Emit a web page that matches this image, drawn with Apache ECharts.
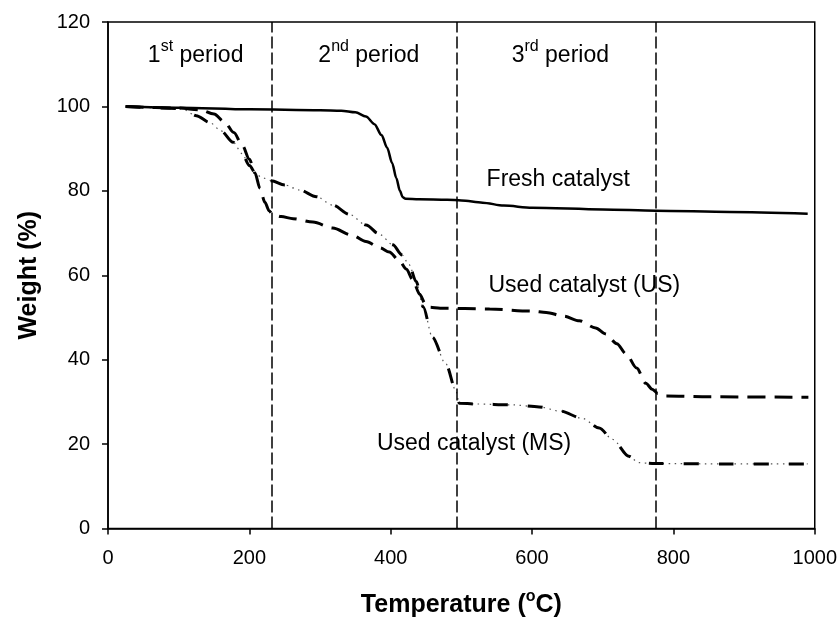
<!DOCTYPE html>
<html>
<head>
<meta charset="utf-8">
<script src="https://cdn.jsdelivr.net/npm/echarts@6/dist/echarts.min.js"></script>
<style>
html,body{margin:0;padding:0;background:#fff;}
#chart{width:840px;height:623px;}
</style>
</head>
<body>
<div id="chart"></div>
<script>
// ---- Data ----
const xTicks = [0, 200, 400, 600, 800, 1000];
const yTicks = [0, 20, 40, 60, 80, 100, 120];

const freshT = [25, 100, 200, 300, 330, 350, 365, 377, 387, 395, 402, 408, 413, 417, 421, 440, 480, 500, 530, 560, 600, 700, 775, 880, 990];
const freshW = [100, 99.7, 99.3, 99.1, 99.0, 98.6, 97.6, 95.8, 93.2, 90.2, 86.6, 83.0, 80.0, 78.5, 78.1, 78.0, 77.9, 77.7, 77.2, 76.5, 76, 75.6, 75.3, 75, 74.6];

const usT = [25, 100, 130, 150, 165, 178, 190, 200, 208, 215, 222, 228, 233, 245, 262, 290, 318, 345, 365, 385, 398, 412, 422, 431, 441, 449, 455, 470, 540, 600, 620, 645, 667, 690, 704, 720, 733, 748, 761, 770, 778, 790, 850, 991];
const usW = [100, 99.6, 99.2, 98.2, 96.3, 93.8, 90.8, 87.5, 84.2, 80.6, 77.3, 75.3, 74.4, 73.9, 73.4, 72.6, 71.2, 69.5, 68, 66.5, 65.5, 63.5, 61.5, 59, 55.5, 53.2, 52.4, 52.2, 52, 51.5, 51.2, 50.3, 49.2, 47.5, 46.1, 43.8, 41.4, 38, 34.4, 33, 32, 31.4, 31.2, 31.1];

const msT = [25, 100, 106, 125, 144, 160, 177, 190, 200, 210, 220, 231, 250, 271, 295, 318, 342, 365, 385, 403, 416, 426, 436, 446, 459, 478, 492, 497, 520, 572, 610, 640, 671, 695, 714, 737, 751, 770, 880, 990];
const msW = [100, 99.5, 99.3, 97.8, 96.2, 94.2, 91.5, 88.8, 86.0, 83.8, 83.0, 82.4, 81.4, 80.2, 78.6, 76.6, 74.4, 71.9, 69.6, 67.2, 64.8, 62.5, 58.5, 52.5, 45.3, 39, 32.8, 29.7, 29.5, 29.3, 28.8, 27.8, 26.1, 23.8, 21.1, 17.1, 15.6, 15.4, 15.3, 15.3];

const periodBounds = [232, 493, 775];

const seriesNames = ['Fresh catalyst', 'Used catalyst (US)', 'Used catalyst (MS)'];
const seriesLabelPos = [[637, 82.7], [674, 57.5], [518, 20.2]];
const periodLabels = [['1', 'st', ' period'], ['2', 'nd', ' period'], ['3', 'rd', ' period']];
const periodLabelPos = [[124, 112], [369, 112], [640, 112]];

// ---- Build ----
const zip = (a, b) => a.map((v, i) => [v, b[i]]);
const FONT = '"Liberation Sans", Arial, sans-serif';

const supRich = {
  a: { fontSize: 23, fontFamily: FONT, color: '#000', lineHeight: 34 },
  b: { fontSize: 16, fontFamily: FONT, color: '#000', lineHeight: 16, verticalAlign: 'top' }
};

const textMarks = {
  symbol: 'circle',
  symbolSize: 0,
  silent: true,
  label: { show: true, position: 'inside', color: '#000', fontSize: 23, fontFamily: FONT },
  data: []
};

const chart = echarts.init(document.getElementById('chart'), null, { renderer: 'canvas' });

const option = {
  animation: false,
  backgroundColor: '#fff',
  grid: {
    left: 108, right: 24, top: 22, bottom: 90,
    show: true, borderColor: '#000', borderWidth: 1.5, backgroundColor: 'transparent'
  },
  xAxis: {
    type: 'value', min: xTicks[0], max: xTicks[xTicks.length - 1], interval: xTicks[1] - xTicks[0],
    name: '{t|Temperature (}{s|o}{t|C)}',
    nameLocation: 'middle', nameGap: 60,
    nameTextStyle: {
      rich: {
        t: { fontSize: 25, fontWeight: 'bold', fontFamily: FONT, color: '#000', lineHeight: 34 },
        s: { fontSize: 16, fontWeight: 'bold', fontFamily: FONT, color: '#000', lineHeight: 16, verticalAlign: 'top' }
      }
    },
    axisLine: { show: true, lineStyle: { color: '#000', width: 1.5 } },
    axisTick: { show: true, inside: false, length: 6, lineStyle: { color: '#000', width: 1.5 } },
    axisLabel: { color: '#000', fontSize: 20, fontFamily: FONT, margin: 20, formatter: v => String(v) },
    splitLine: { show: false }
  },
  yAxis: {
    type: 'value', min: yTicks[0], max: yTicks[yTicks.length - 1], interval: yTicks[1] - yTicks[0],
    name: 'Weight (%)',
    nameLocation: 'middle', nameGap: 66,
    nameTextStyle: { fontSize: 25, fontWeight: 'bold', fontFamily: FONT, color: '#000' },
    axisLine: { show: true, lineStyle: { color: '#000', width: 1.5 } },
    axisTick: { show: true, inside: false, length: 6, lineStyle: { color: '#000', width: 1.5 } },
    axisLabel: { color: '#000', fontSize: 20, fontFamily: FONT, margin: 18, formatter: v => String(v) },
    splitLine: { show: false }
  },
  series: [
    {
      name: seriesNames[0], type: 'line', data: zip(freshT, freshW),
      showSymbol: false, smooth: 0.3, smoothMonotone: 'x',
      lineStyle: { color: '#000', width: 2.5, type: 'solid' },
      z: 5,
      markLine: {
        silent: true, symbol: 'none',
        label: { show: false },
        lineStyle: { color: '#000', width: 1.5, type: [12, 4] },
        data: periodBounds.map(v => ({ xAxis: v }))
      },
      markPoint: Object.assign({}, textMarks, {
        data: [{ coord: seriesLabelPos[0], label: { formatter: seriesNames[0] } }]
          .concat(periodLabels.map((p, i) => ({
            coord: periodLabelPos[i],
            label: { formatter: '{a|' + p[0] + '}{b|' + p[1] + '}{a|' + p[2] + '}', rich: supRich }
          })))
      })
    },
    {
      name: seriesNames[1], type: 'line', data: zip(usT, usW),
      showSymbol: false, smooth: 0.3, smoothMonotone: 'x',
      lineStyle: { color: '#000', width: 3, type: [18, 9] },
      z: 4,
      markPoint: Object.assign({}, textMarks, {
        data: [{ coord: seriesLabelPos[1], label: { formatter: seriesNames[1] } }]
      })
    },
    {
      name: seriesNames[2] + ' dots', type: 'line', data: zip(msT, msW),
      showSymbol: false, smooth: 0.3, smoothMonotone: 'x',
      lineStyle: { color: '#555', width: 1.2, type: [1.5, 4.5] },
      z: 3
    },
    {
      name: seriesNames[2], type: 'line', data: zip(msT, msW),
      showSymbol: false, smooth: 0.3, smoothMonotone: 'x',
      lineStyle: { color: '#000', width: 3, type: [15, 20] },
      z: 3,
      markPoint: Object.assign({}, textMarks, {
        data: [{ coord: seriesLabelPos[2], label: { formatter: seriesNames[2] } }]
      })
    }
  ]
};
chart.setOption(option);
</script>
</body>
</html>
